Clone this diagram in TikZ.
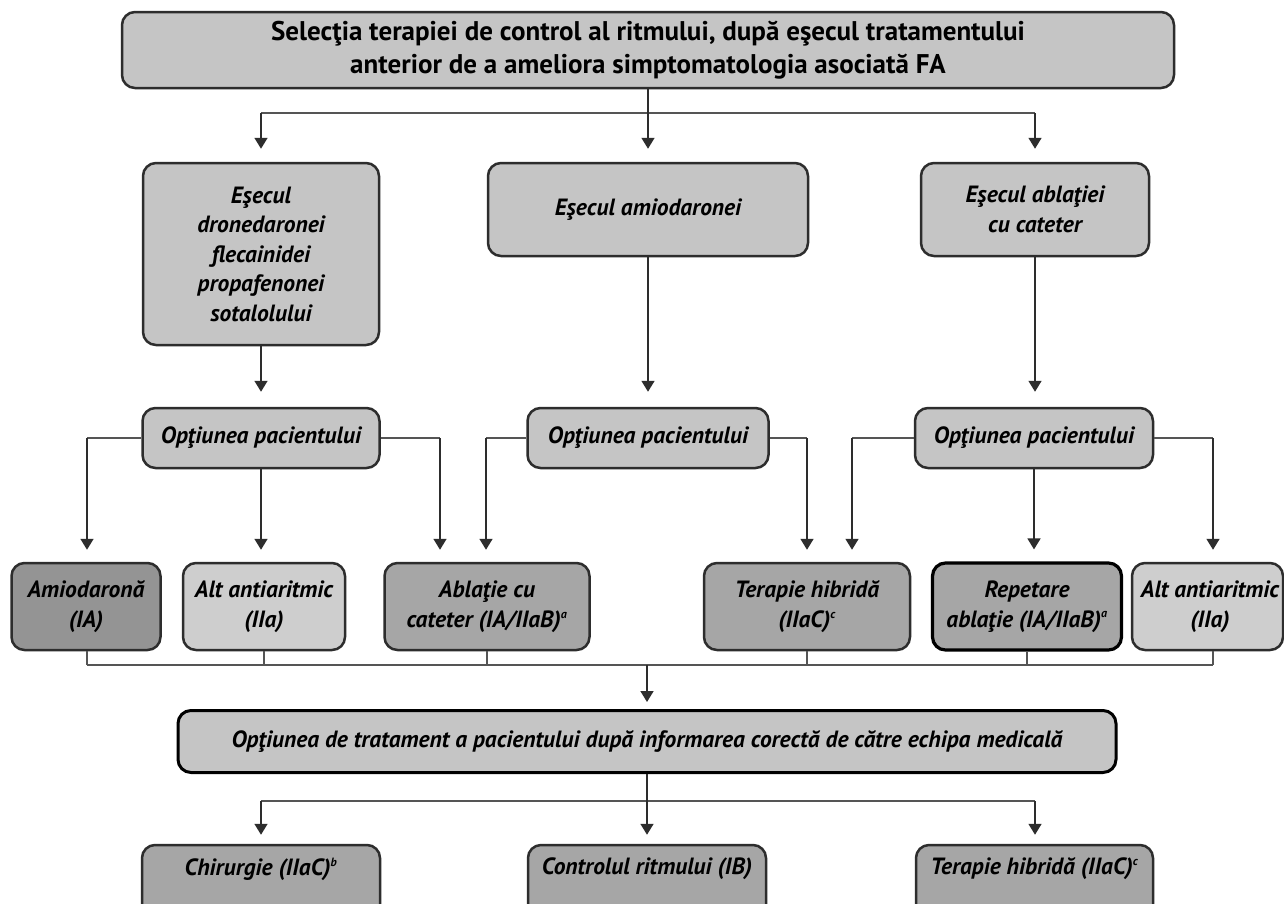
\documentclass[tikz,border=0pt]{standalone}
\usepackage{fontspec}
\setmainfont{PT Sans}
\usetikzlibrary{arrows.meta}

\definecolor{boxlight}{RGB}{197,197,197}
\definecolor{boxpale}{RGB}{206,206,206}
\definecolor{boxmid}{RGB}{166,166,166}
\definecolor{boxdark}{RGB}{148,148,148}
\definecolor{edge}{RGB}{45,45,45}
\definecolor{wire}{RGB}{85,85,85}
\definecolor{shaft}{RGB}{45,45,45}

\tikzset{
  box/.style={draw=edge, line width=2.5pt, rounded corners=13pt, inner sep=0pt,
    align=center, font=\fontsize{23.5}{29.5}\selectfont\bfseries\itshape},
  txt/.style={inner sep=0pt, align=center, font=\fontsize{23.5}{29.5}\selectfont\bfseries\itshape},
  wireline/.style={draw=wire, line width=1.5pt},
  arrowline/.style={draw=shaft, line width=1.6pt,
    -{Triangle[length=11pt,width=13pt]}, shorten >=#1},
  arrowline/.default=13pt
}
\newcommand{\supl}[1]{\textsuperscript{\fontsize{12}{12}\selectfont #1}}

\begin{document}
\begin{tikzpicture}[x=1pt,y=-1pt]
\clip (0,0) rectangle (1284,903);
\fill[white] (0,0) rectangle (1284,903);

% header
\node[box, fill=boxlight, minimum width=1052pt, minimum height=76pt,
      font=\fontsize{27}{33}\selectfont\bfseries] (top) at (648,50)
  {Selecţia terapiei de control al ritmului, după eşecul tratamentului\\
   anterior de a ameliora simptomatologia asociată FA};

% failed previous therapy
\node[box, fill=boxlight, minimum width=236pt, minimum height=182pt] (fa) at (261,254)
  {Eşecul\\dronedaronei\\flecainidei\\propafenonei\\sotalolului};
\node[box, fill=boxlight, minimum width=320pt, minimum height=93pt] (fb) at (648,209.5)
  {Eşecul amiodaronei};
\node[box, fill=boxlight, minimum width=228pt, minimum height=93pt] (fc) at (1035,209.5)
  {Eşecul ablaţiei\\cu cateter};

% patient choice
\node[box, fill=boxlight, minimum width=237pt, minimum height=60pt] (oa) at (261,438)
  {Opţiunea pacientului};
\node[box, fill=boxlight, minimum width=241pt, minimum height=60pt] (ob) at (648,438)
  {Opţiunea pacientului};
\node[box, fill=boxlight, minimum width=238pt, minimum height=60pt] (oc) at (1034,438)
  {Opţiunea pacientului};

% options
\node[box, fill=boxdark, minimum width=149pt, minimum height=87pt] (am) at (86,606.5)
  {Amiodaronă\\(IA)};
\node[box, fill=boxpale, minimum width=162pt, minimum height=87pt] (alta) at (264,606.5)
  {Alt antiaritmic\\(IIa)};
\node[box, fill=boxmid, minimum width=205pt, minimum height=87pt] (abl) at (487,606.5)
  {Ablaţie cu\\cateter (IA/IIaB)\supl{a}};
\node[box, fill=boxmid, minimum width=206pt, minimum height=87pt] (ter) at (807,606.5)
  {Terapie hibridă\\(IIaC)\supl{c}};
\node[box, fill=boxmid, draw=black, line width=3.2pt, minimum width=189pt, minimum height=87pt] (rep) at (1027,606.5)
  {Repetare\\ablaţie (IA/IIaB)\supl{a}};
\node[box, fill=boxpale, minimum width=151pt, minimum height=87pt] (altb) at (1207.5,606.5) {};
\node[txt] (altbt) at (1210,606.5) {Alt antiaritmic\\(IIa)};

% informed decision
\node[box, fill=boxlight, draw=black, line width=3pt, minimum width=938pt, minimum height=62pt] (opt) at (647,741.5)
  {Opţiunea de tratament a pacientului după informarea corectă de către echipa medicală};

% final choices (running past the lower edge)
\node[box, fill=boxmid, minimum width=238pt, minimum height=110pt] (chir) at (261,900) {};
\node[txt] (chirt) at (261,869) {Chirurgie (IIaC)\supl{b}};
\node[box, fill=boxmid, minimum width=238pt, minimum height=110pt] (ctrl) at (647,900) {};
\node[txt] (ctrlt) at (647,869) {Controlul ritmului (IB)};
\node[box, fill=boxmid, minimum width=237pt, minimum height=110pt] (hib) at (1034.5,900) {};
\node[txt] (hibt) at (1034.5,869) {Terapie hibridă (IIaC)\supl{c}};

% header to failures
\coordinate (hl) at (261,113);
\coordinate (hr) at (1035,113);
\draw[wireline] (hl) -- (hr);
\draw[arrowline] (top.south) -- (fb.north);
\draw[arrowline] (hl) -- (hl |- fa.north);
\draw[arrowline] (hr) -- (hr |- fc.north);

% failures to patient choice
\draw[arrowline=15pt] (fa.south) -- (fa.south |- oa.north);
\draw[arrowline=15pt] (fb.south) -- (fb.south |- ob.north);
\draw[arrowline=15pt] (fc.south) -- (fc.south |- oc.north);

% branches to the options
\coordinate (ba) at (87,438);
\coordinate (bb) at (440,438);
\coordinate (bc) at (486,438);
\coordinate (bd) at (807,438);
\coordinate (be) at (852,438);
\coordinate (bf) at (1213,438);
\draw[wireline] (oa.west) -- (ba);
\draw[wireline] (oa.east) -- (bb);
\draw[wireline] (ob.west) -- (bc);
\draw[wireline] (ob.east) -- (bd);
\draw[wireline] (oc.west) -- (be);
\draw[wireline] (oc.east) -- (bf);
\draw[arrowline=12pt] (ba) -- (ba |- am.north);
\draw[arrowline=12pt] (oa.south) -- (oa.south |- alta.north);
\draw[arrowline=12pt] (bb) -- (bb |- abl.north);
\draw[arrowline=12pt] (bc) -- (bc |- abl.north);
\draw[arrowline=12pt] (bd) -- (bd |- ter.north);
\draw[arrowline=12pt] (be) -- (be |- ter.north);
\draw[arrowline=12pt] (oc.south) -- (oc.south |- rep.north);
\draw[arrowline=12pt] (bf) -- (bf |- altb.north);

% options gathered into the decision
\coordinate (cl) at (87,665);
\coordinate (cr) at (1213,665);
\coordinate (cm) at (647,665);
\draw[wireline] (cl) -- (cr);
\draw[wireline] (cl) -- (cl |- am.south);
\draw[wireline] (alta.south) -- (alta.south |- cl);
\draw[wireline] (abl.south) -- (abl.south |- cl);
\draw[wireline] (ter.south) -- (ter.south |- cl);
\draw[wireline] (rep.south) -- (rep.south |- cl);
\draw[wireline] (cr) -- (cr |- altb.south);
\draw[arrowline=7pt] (cm) -- (cm |- opt.north);

% decision to final choices
\coordinate (dl) at (261,801);
\coordinate (dr) at (1035,801);
\draw[wireline] (dl) -- (dr);
\draw[arrowline=9pt] (opt.south) -- (ctrl.north);
\draw[arrowline=9pt] (dl) -- (dl |- chir.north);
\draw[arrowline=9pt] (dr) -- (dr |- hib.north);
\end{tikzpicture}
\end{document}
